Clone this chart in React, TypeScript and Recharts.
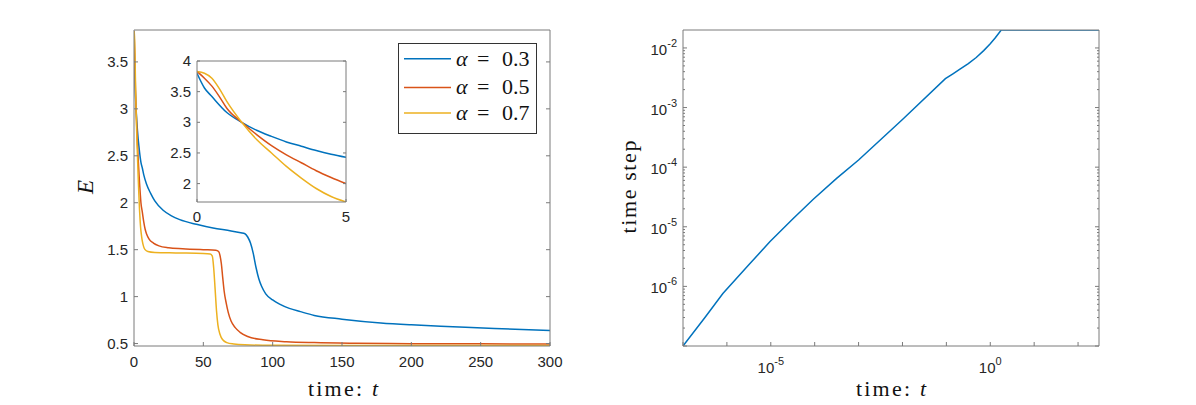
import React from 'react';
import { LineChart, Line, XAxis, YAxis, Legend } from 'recharts';

// ---------- Left panel data: energy E vs time t ----------
const blueT = [0, 0.25, 0.5, 1, 1.5, 2, 2.5, 3, 3.5, 4, 4.5, 5, 6, 7, 9, 12, 15, 21, 27, 33, 45, 57, 70, 77, 80, 82, 84, 86, 88, 90, 92, 95, 100, 105, 112, 120, 130, 150, 178, 200, 230, 260, 300];
const blueE = [3.8, 3.56, 3.42, 3.16, 3.0, 2.87, 2.77, 2.68, 2.61, 2.54, 2.48, 2.43, 2.37, 2.3, 2.2, 2.1, 2.02, 1.92, 1.86, 1.82, 1.77, 1.73, 1.7, 1.68, 1.67, 1.635, 1.57, 1.46, 1.31, 1.19, 1.11, 1.03, 0.965, 0.92, 0.875, 0.84, 0.8, 0.76, 0.72, 0.7, 0.68, 0.66, 0.64];

const redT = [0, 0.25, 0.5, 0.75, 1, 1.5, 2, 2.5, 3, 3.5, 4, 4.5, 5, 6, 7, 8, 9, 11, 14, 18, 25, 35, 50, 59, 61, 62, 63, 64, 65, 66.5, 68, 70, 73, 76.5, 82, 93, 110, 130, 160, 200, 250, 300];
const redE = [3.83, 3.72, 3.59, 3.42, 3.23, 3.0, 2.8, 2.62, 2.47, 2.34, 2.21, 2.1, 2.0, 1.9, 1.8, 1.72, 1.67, 1.61, 1.57, 1.54, 1.52, 1.51, 1.5, 1.495, 1.48, 1.44, 1.35, 1.2, 1.06, 0.93, 0.83, 0.74, 0.67, 0.62, 0.575, 0.54, 0.52, 0.51, 0.503, 0.499, 0.497, 0.495];

const yellowT = [0, 0.25, 0.5, 0.75, 1, 1.5, 2, 2.5, 3, 3.5, 4, 4.5, 5, 5.5, 6, 7, 8, 10, 15, 30, 50, 55, 56.5, 57.5, 58.5, 59.5, 60.5, 62, 64, 67, 72, 80, 100, 150, 300];
const yellowE = [3.83, 3.8, 3.72, 3.55, 3.34, 3.0, 2.72, 2.5, 2.28, 2.09, 1.92, 1.79, 1.7, 1.64, 1.59, 1.53, 1.5, 1.48, 1.47, 1.465, 1.46, 1.455, 1.43, 1.3, 1.08, 0.85, 0.7, 0.6, 0.54, 0.51, 0.495, 0.486, 0.481, 0.479, 0.478];

const seriesNames = ['0.3', '0.5', '0.7'];
const seriesColors = ['#0072BD', '#D95319', '#EDB120'];

const mainXTicks = [0, 50, 100, 150, 200, 250, 300];
const mainYTicks = [0.5, 1, 1.5, 2, 2.5, 3, 3.5];
const insetXTicks = [0, 5];
const insetYTicks = [2, 2.5, 3, 3.5, 4];

// ---------- Right panel data: time step vs time t (log-log) ----------
const stepT = [1e-7, 3.16e-7, 8.1e-7, 3.16e-6, 9.5e-6, 3.16e-5, 9.3e-5, 3.16e-4, 1e-3, 1e-2, 9.5e-2, 0.141, 0.2, 0.316, 0.479, 0.708, 1.0, 1.318, 1.778, 300];
const stepDt = [1e-7, 3.0e-7, 7.6e-7, 2.3e-6, 5.6e-6, 1.35e-5, 2.9e-5, 6.5e-5, 1.32e-4, 6.3e-4, 3.05e-3, 3.67e-3, 4.35e-3, 5.47e-3, 6.92e-3, 9.02e-3, 1.175e-2, 1.496e-2, 2.0e-2, 2.0e-2];

const logXTicks = [1e-7, 1e-6, 1e-5, 1e-4, 1e-3, 1e-2, 1e-1, 1, 10, 100];
const logXLabelExps = [-5, 0];
const logYLabelExps = [-6, -5, -4, -3, -2];
const logYAllTicks: number[] = [];
for (let e = -7; e <= -3; e++) for (let k = 1; k <= 9; k++) logYAllTicks.push(k * Math.pow(10, e));
logYAllTicks.push(1e-2);

const FRAME = '#7a7a7a';
const TXT = '#262626';
const tickFont = 'Liberation Sans, Arial, sans-serif';
const serif = 'Liberation Serif, Times New Roman, serif';

const pts = (ts: number[], es: number[]) => ts.map((t, i) => ({ t, v: es[i] }));
const bluePts = pts(blueT, blueE);
const redPts = pts(redT, redE);
const yellowPts = pts(yellowT, yellowE);
const allSeries = [bluePts, redPts, yellowPts];
const stepPts = pts(stepT, stepDt);

const mainXDom: [number, number] = [0, 300];
const mainYDom: [number, number] = [0.474, 3.84];
const insetXDom: [number, number] = [0, 5];
const insetYDom: [number, number] = [1.7, 4];
const logXDom: [number, number] = [1e-7, 300];
const logYDom: [number, number] = [1e-7, 0.02];

type Side = 'bottom' | 'left' | 'top' | 'right';
interface TickOpts {
  side: Side;
  len: number | ((v: number) => number);
  label?: (v: number, x: number, y: number) => React.ReactNode;
}

function renderTick(p: any, o: TickOpts) {
  const { x, y, payload } = p;
  const v = payload.value as number;
  const L = typeof o.len === 'function' ? o.len(v) : o.len;
  let x2 = x, y2 = y;
  if (o.side === 'bottom') y2 = y - L;
  if (o.side === 'top') y2 = y + L;
  if (o.side === 'left') x2 = x + L;
  if (o.side === 'right') x2 = x - L;
  return (
    <g>
      {L > 0 && <line x1={x} y1={y} x2={x2} y2={y2} stroke={FRAME} strokeWidth={1} />}
      {o.label ? o.label(v, x, y) : null}
    </g>
  );
}

const linBottomLabel = (dy: number) => (v: number, x: number, y: number) => (
  <text x={x} y={y + dy} textAnchor="middle" fill={TXT} fontSize={15} fontFamily={tickFont}>{String(v)}</text>
);
const linLeftLabel = (v: number, x: number, y: number) => (
  <text x={x - 6} y={y + 5} textAnchor="end" fill={TXT} fontSize={15} fontFamily={tickFont}>{String(v)}</text>
);
const logBottomLabel = (v: number, x: number, y: number) => {
  const e = Math.round(Math.log10(v));
  if (!logXLabelExps.includes(e)) return null;
  return (
    <text x={x} y={y + 27} textAnchor="middle" fill={TXT} fontSize={15} fontFamily={tickFont}>
      10<tspan dy={-8} fontSize={11}>{e}</tspan>
    </text>
  );
};
const isDecade = (v: number) => Math.abs(Math.log10(v) - Math.round(Math.log10(v))) < 1e-6;
const logLeftLabel = (v: number, x: number, y: number) => {
  if (!isDecade(v)) return null;
  const e = Math.round(Math.log10(v));
  if (!logYLabelExps.includes(e)) return null;
  return (
    <text x={x - 6} y={y + 7} textAnchor="end" fill={TXT} fontSize={15} fontFamily={tickFont}>
      10<tspan dy={-8} fontSize={11}>{e}</tspan>
    </text>
  );
};
const logYLen = (v: number) => (isDecade(v) ? 4 : 2);

const LegendBox = () => (
  <svg width={140} height={92} style={{ display: 'block' }}>
    <rect x={0.5} y={0.5} width={138} height={90} fill="#fff" stroke="#333" strokeWidth={1} />
    {seriesNames.map((n, i) => {
      const cy = [15.7, 44.4, 70][i];
      return (
        <g key={n}>
          <line x1={6} x2={53} y1={cy} y2={cy} stroke={seriesColors[i]} strokeWidth={1.5} />
          <text y={cy + 7} fontFamily={serif} fontSize={22} fill="#111">
            <tspan x={58} fontStyle="italic">α</tspan>
            <tspan x={79}>=</tspan>
            <tspan x={104}>{n}</tspan>
          </text>
        </g>
      );
    })}
  </svg>
);

const common = { type: 'number' as const, allowDataOverflow: true, tickLine: false, tickSize: 0, tickMargin: 0, interval: 0 as const };

export default function App() {
  return (
    <div style={{ position: 'absolute', left: 0, top: 0, width: 1196, height: 405, background: '#fff', overflow: 'hidden' }}>
      {/* Left main chart */}
      <div style={{ position: 'absolute', left: 0, top: 0 }}>
        <LineChart width={600} height={405} margin={{ top: 30, right: 50, bottom: 29, left: 74 }}>
          <XAxis xAxisId="x" dataKey="t" {...common} domain={mainXDom} ticks={mainXTicks} height={30}
            axisLine={{ stroke: FRAME }} tick={(p: any) => renderTick(p, { side: 'bottom', len: 4, label: linBottomLabel(21) })} />
          <XAxis xAxisId="xt" orientation="top" mirror {...common} domain={mainXDom} ticks={mainXTicks}
            axisLine={{ stroke: FRAME }} tick={(p: any) => renderTick(p, { side: 'top', len: 4 })} />
          <YAxis yAxisId="y" {...common} domain={mainYDom} ticks={mainYTicks} width={60}
            axisLine={{ stroke: FRAME }} tick={(p: any) => renderTick(p, { side: 'left', len: 4, label: linLeftLabel })} />
          <YAxis yAxisId="yr" orientation="right" mirror {...common} domain={mainYDom} ticks={mainYTicks}
            axisLine={{ stroke: FRAME }} tick={(p: any) => renderTick(p, { side: 'right', len: 4 })} />
          {allSeries.map((d, i) => (
            <Line key={i} data={d} dataKey="v" xAxisId="x" yAxisId="y" type="monotone" stroke={seriesColors[i]}
              strokeWidth={1.5} dot={false} activeDot={false} isAnimationActive={false} name={seriesNames[i]} />
          ))}
          <Legend layout="vertical" align="center" verticalAlign="middle" content={<LegendBox />}
            wrapperStyle={{ position: 'absolute', left: 398, top: 43, width: 140, height: 92, margin: 0 }} />
        </LineChart>
      </div>

      {/* Inset chart */}
      <div style={{ position: 'absolute', left: 150, top: 50 }}>
        <LineChart width={210} height={175} margin={{ top: 11, right: 14, bottom: 3, left: 17 }}>
          <XAxis xAxisId="x" dataKey="t" {...common} domain={insetXDom} ticks={insetXTicks} height={20}
            axisLine={{ stroke: FRAME }} tick={(p: any) => renderTick(p, { side: 'bottom', len: 3, label: linBottomLabel(20) })} />
          <XAxis xAxisId="xt" orientation="top" mirror {...common} domain={insetXDom} ticks={insetXTicks}
            axisLine={{ stroke: FRAME }} tick={(p: any) => renderTick(p, { side: 'top', len: 3 })} />
          <YAxis yAxisId="y" {...common} domain={insetYDom} ticks={insetYTicks} width={30}
            axisLine={{ stroke: FRAME }} tick={(p: any) => renderTick(p, { side: 'left', len: 3, label: linLeftLabel })} />
          <YAxis yAxisId="yr" orientation="right" mirror {...common} domain={insetYDom} ticks={insetYTicks}
            axisLine={{ stroke: FRAME }} tick={(p: any) => renderTick(p, { side: 'right', len: 3 })} />
          {allSeries.map((d, i) => (
            <Line key={i} data={d.filter((q) => q.t <= 5)} dataKey="v" xAxisId="x" yAxisId="y" type="monotone"
              stroke={seriesColors[i]} strokeWidth={1.5} dot={false} activeDot={false} isAnimationActive={false} />
          ))}
        </LineChart>
      </div>

      {/* Right log-log chart */}
      <div style={{ position: 'absolute', left: 600, top: 0 }}>
        <LineChart width={596} height={405} margin={{ top: 30, right: 97, bottom: 29, left: 23 }}>
          <XAxis xAxisId="x" dataKey="t" {...common} scale="log" domain={logXDom} ticks={logXTicks} height={30}
            axisLine={{ stroke: FRAME }} tick={(p: any) => renderTick(p, { side: 'bottom', len: 4, label: logBottomLabel })} />
          <XAxis xAxisId="xt" orientation="top" mirror {...common} scale="log" domain={logXDom} ticks={logXTicks}
            axisLine={{ stroke: FRAME }} tick={(p: any) => renderTick(p, { side: 'top', len: 4 })} />
          <YAxis yAxisId="y" {...common} scale="log" domain={logYDom} ticks={logYAllTicks} width={60}
            axisLine={{ stroke: FRAME }} tick={(p: any) => renderTick(p, { side: 'left', len: logYLen, label: logLeftLabel })} />
          <YAxis yAxisId="yr" orientation="right" mirror {...common} scale="log" domain={logYDom} ticks={logYAllTicks}
            axisLine={{ stroke: FRAME }} tick={(p: any) => renderTick(p, { side: 'right', len: logYLen })} />
          <Line data={stepPts} dataKey="v" xAxisId="x" yAxisId="y" type="linear" stroke="#0072BD" strokeWidth={1.5}
            dot={false} activeDot={false} isAnimationActive={false} />
        </LineChart>
      </div>

      {/* Axis titles */}
      <svg width={1196} height={405} style={{ position: 'absolute', left: 0, top: 0, pointerEvents: 'none' }}>
        <text x={85} y={187} transform="rotate(-90 85 187)" textAnchor="middle" dominantBaseline="central"
          fontFamily={serif} fontStyle="italic" fontSize={23} fill="#111">E</text>
        <text x={343} y={396} textAnchor="middle" fontFamily={serif} fontSize={22} fill="#111" textLength={70} lengthAdjust="spacing">
          time: <tspan fontStyle="italic">t</tspan>
        </text>
        <text x={891} y={396} textAnchor="middle" fontFamily={serif} fontSize={22} fill="#111" textLength={70} lengthAdjust="spacing">
          time: <tspan fontStyle="italic">t</tspan>
        </text>
        <text x={628} y={187} transform="rotate(-90 628 187)" textAnchor="middle" dominantBaseline="central"
          fontFamily={serif} fontSize={22} fill="#111" textLength={93} lengthAdjust="spacing">time step</text>
      </svg>
    </div>
  );
}
